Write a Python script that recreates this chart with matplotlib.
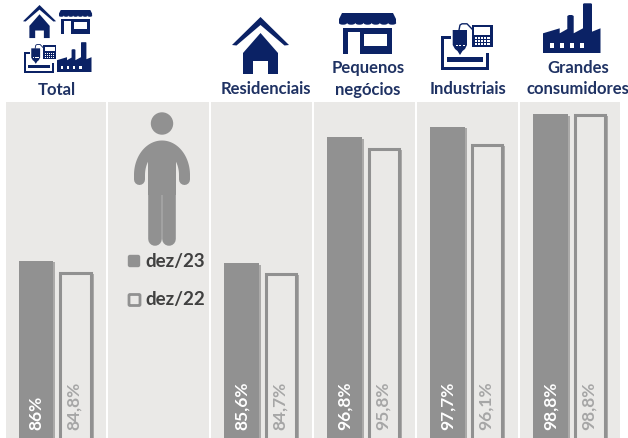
import matplotlib
matplotlib.use("Agg")
import matplotlib.pyplot as plt
import numpy as np
from matplotlib.patches import Polygon, Rectangle, Circle, FancyBboxPatch, Ellipse

categories = ["Total", "", "Residenciais", "Pequenos\nnegócios", "Industriais", "Grandes\nconsumidores"]
dez23 = [85.8, None, 85.6, 96.8, 97.7, 98.8]
dez22 = [84.8, None, 84.7, 95.8, 96.1, 98.8]
labels23 = ["86%", "", "85,6%", "96,8%", "97,7%", "98,8%"]
labels22 = ["84,8%", "", "84,7%", "95,8%", "96,1%", "98,8%"]
legend_labels = ["dez/23", "dez/22"]

W, H = 628, 438
NAVY = "#0B2265"
TXT = "#1F3263"
GRAY = "#919191"
SHADOW = "#ABAAA9"
BG = "#EAE9E7"
plt.rcParams["font.family"] = ["Lato", "DejaVu Sans"]

fig = plt.figure(figsize=(W / 100, H / 100), dpi=100, facecolor="white")

# Panels + bars
ax = fig.add_axes([4.5 / W, 0, 617 / W, 336 / H])
ax.set_xlim(-0.5, 5.5)
ax.set_ylim(70.1, 99.95)
ax.axis("off")
for i in range(6):
    ax.axvspan(i - 0.49, i + 0.49, color=BG, lw=0, zorder=0)
bw_fill, off_fill = 0.336, -0.193
bw_hollow, off_hollow = 0.293, 0.19
for i in range(6):
    if dez23[i] is None:
        continue
    ax.bar(i + off_fill + 0.02, dez23[i] - 0.1, bw_fill, color=SHADOW, lw=0, zorder=1)
    ax.bar(i + off_fill, dez23[i] + 0.05, bw_fill, color=GRAY, lw=0, zorder=2)
    ax.bar(i + off_hollow + 0.03, dez22[i] - 0.1, bw_hollow, color=SHADOW, lw=0, zorder=1)
    ax.bar(i + off_hollow, dez22[i], bw_hollow, facecolor=BG, edgecolor=GRAY, lw=2.2, zorder=2)
    ax.text(i + off_fill + 0.003, 70.8, labels23[i], rotation=90, ha="center", va="bottom",
            color="white", fontsize=12.5, fontweight="bold", zorder=3)
    ax.text(i + off_hollow - 0.012, 70.8, labels22[i], rotation=90, ha="center", va="bottom",
            color="#A6A6A6", fontsize=12.5, fontweight="bold", zorder=3)

# Overlay in pixel coordinates for icons, titles and legend
ov = fig.add_axes([0, 0, 1, 1], zorder=5)
ov.set_xlim(0, W)
ov.set_ylim(H, 0)
ov.axis("off")
ov.patch.set_alpha(0)


def tf(pts, x0, y0, s):
    return [(x0 + s * x, y0 + s * y) for x, y in pts]


def poly(pts, x0, y0, s, c=NAVY):
    ov.add_patch(Polygon(tf(pts, x0, y0, s), closed=True, fc=c, ec="none"))


def rect(x1, y1, x2, y2, x0, y0, s, c=NAVY):
    poly([(x1, y1), (x2, y1), (x2, y2), (x1, y2)], x0, y0, s, c)


def house(x0, y0, s):
    poly([(0, 28), (28.5, 0), (57, 28), (52.5, 28.5), (28.5, 8), (4.5, 28.5)], x0, y0, s)
    poly([(11, 36), (28.5, 16), (46, 36), (46, 57), (36, 57), (36, 44), (21, 44), (21, 57), (11, 57)], x0, y0, s)


def shop(x0, y0, s):
    poly([(3, 0), (54, 0), (57, 6), (57, 10), (0, 10), (0, 6)], x0, y0, s)
    for k in range(7):
        cx = 4 + k * 8.2
        ov.add_patch(Ellipse((x0 + s * cx, y0 + s * 10), 8 * s, 3.4 * s, fc=NAVY, ec="none"))
    rect(4, 15, 53, 41, x0, y0, s)
    rect(9, 19, 21, 41, x0, y0, s, "white")
    rect(25, 21, 48, 33, x0, y0, s, "white")


def factory(x0, y0, s):
    poly([(0, 50), (0, 30.3), (16.7, 25.3), (16.7, 30.3), (24.3, 26), (24.3, 13), (26, 12), (29, 12), (30.7, 13),
          (30.7, 30.3), (40, 25.3), (40, 1), (41, 0.3), (48, 0.3), (49, 1), (49, 28.7), (57.5, 25.3), (57.5, 50)],
         x0, y0, s)
    for a, b in [(7.3, 10.7), (16.7, 20.7), (26.7, 30.7), (36.7, 41.2)]:
        rect(a, 40, b, 45, x0, y0, s, "white")


def machine(x0, y0, s):
    poly([(0, 13), (10, 13), (10, 16), (3.3, 16), (3.3, 43.7), (44.5, 43.7), (44.5, 30), (48, 30), (48, 47), (0, 47)],
         x0, y0, s)
    rect(6, 33.5, 42, 38.5, x0, y0, s)
    poly([(11.7, 7), (26, 7), (26, 22), (24, 26), (21.5, 28), (19, 32), (16.5, 28), (14, 26), (11.7, 22)], x0, y0, s)
    for a in (14.5, 18, 21.5):
        rect(a, 21.5, a + 2.2, 23, x0, y0, s, "white")
    rect(31, 2, 51.5, 24, x0, y0, s)
    rect(33.3, 4.3, 49.2, 12, x0, y0, s, "white")
    for r in range(3):
        for c in range(5):
            rect(33.6 + c * 3.2, 14 + r * 3.1, 35.8 + c * 3.2, 16 + r * 3.1, x0, y0, s, "white")
    ov.plot([x0 + 18 * s, x0 + 19 * s, x0 + 21 * s, x0 + 26 * s, x0 + 31 * s],
            [y0 + 7 * s, y0 + 2 * s, y0 + 0.8 * s, y0 + 0.8 * s, y0 + 6 * s], color=NAVY, lw=1.0 * s)


def person(cx):
    g = GRAY
    ov.add_patch(Circle((cx, 123.5), 11.2, fc=g, ec="none"))
    px = 72 / 100
    # Arms and shoulders: a rounded arch
    t = np.linspace(0, np.pi, 60)
    xs = cx + 22.5 * np.cos(t)
    ys = 175 - 29 * np.sin(t)
    xs = np.r_[xs[0], xs, xs[-1]]
    ys = np.r_[179.5, ys, 179.5]
    ov.plot(xs, ys, color=g, lw=11 * px, solid_capstyle="round", solid_joinstyle="round")
    # Trunk and legs
    ov.add_patch(Rectangle((cx - 14, 146), 28, 49, fc=g, ec="none"))
    for dx in (-7.2, 7.2):
        ov.plot([cx + dx, cx + dx], [190, 238.5], color=g, lw=13.6 * px, solid_capstyle="round")


house(23, 5, 0.58)
shop(59, 10, 0.58)
machine(24, 44, 0.62)
factory(57, 42, 0.6)
house(232, 17, 1)
shop(339, 13, 1)
machine(441, 23, 1)
factory(543, 3, 1)
person(162)

# Titles
title_pos = [(57, 90), (266, 89.5), (368, 79), (468, 89.5), (578, 78.5)]
for lab, (xc, yc) in zip([c for c in categories if c], title_pos):
    ov.text(xc, yc, lab, ha="center", va="center", color=TXT, fontsize=12, fontweight="bold", linespacing=1.45)

# Legend
ov.add_patch(FancyBboxPatch((128.5, 255.5), 11, 11, boxstyle="round,pad=0,rounding_size=1.5", fc=GRAY, ec=GRAY, lw=1))
ov.add_patch(FancyBboxPatch((129, 294.5), 11, 11, boxstyle="round,pad=0,rounding_size=1", fc=BG, ec=GRAY, lw=2))
ov.text(145, 261.5, legend_labels[0], ha="left", va="center", color="#404040", fontsize=13.5, fontweight="bold")
ov.text(145, 300, legend_labels[1], ha="left", va="center", color="#404040", fontsize=13.5, fontweight="bold")

fig.savefig("out.png", dpi=100, facecolor="white")
